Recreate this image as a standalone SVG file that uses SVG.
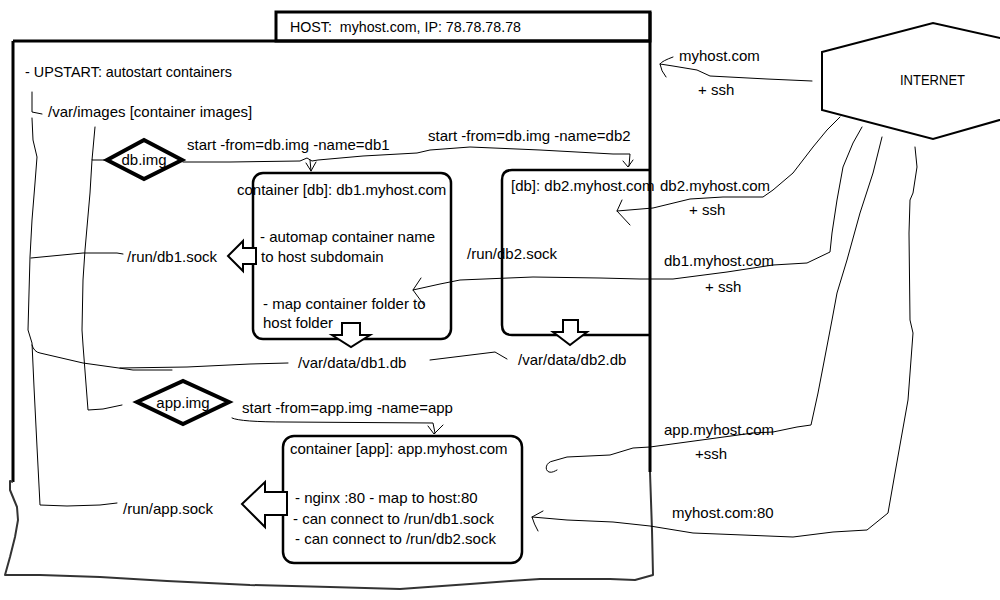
<svg xmlns="http://www.w3.org/2000/svg" width="1000" height="600" viewBox="0 0 1000 600">
<style>
text{font-family:"Liberation Sans",Arial,sans-serif;font-size:15px;fill:#000}
.thin{fill:none;stroke:#000;stroke-width:1;stroke-linejoin:round;stroke-linecap:round}
.thick{fill:none;stroke:#000;stroke-width:3}
.box{fill:none;stroke:#000;stroke-width:2.5}
.dia{fill:#fff;stroke:#000;stroke-width:4;stroke-linejoin:miter}
.blk{fill:#fff;stroke:#000;stroke-width:2;stroke-linejoin:miter}
.wavy{fill:none;stroke:#333;stroke-width:2;stroke-linejoin:round}
.mid{text-anchor:middle}
</style>
<rect width="1000" height="600" fill="#fff"/>
<g id="host">
<path class="thick" d="M13,41 L13,482 M13,41 L650,41 M650,12 L650,472"/>
<path class="wavy" d="M13,482 L10,481 L10,490 L17,507 L18,520 L15,537 L10,557 L5,575 L40,575 L100,577 L167,581 L250,585 L330,587 L400,589 L470,584 L510,581 L540,579 L610,579 L635,580 L653,575 L652,530 L650,472"/>
<text x="25" y="77" textLength="207" lengthAdjust="spacingAndGlyphs">- UPSTART: autostart containers</text>
<text x="48" y="117">/var/images [container images]</text>
</g>
<g id="host-title">
<rect class="thick" x="276" y="12" width="374" height="29" fill="#fff"/>
<text x="290" y="32" style="white-space:pre" textLength="231" lengthAdjust="spacingAndGlyphs">HOST:  myhost.com, IP: 78.78.78.78</text>
</g>
<g id="internet">
<polygon points="822,52 933,23 1045,48 1045,107 933,139 822,110" fill="#fff" stroke="#000" stroke-width="2"/>
<text x="900" y="85" textLength="65" lengthAdjust="spacingAndGlyphs">INTERNET</text>
</g>
<g id="db-img">
<polygon class="dia" points="107,160 144,140 182,160 144,179"/>
<text class="mid" x="144" y="165">db.img</text>
</g>
<g id="app-img">
<polygon class="dia" points="137,402 183,381 229,402 183,424"/>
<text class="mid" x="183" y="408">app.img</text>
</g>
<g id="db1">
<rect class="box" x="253" y="173" width="198" height="166" rx="10"/>
<text x="237" y="195">container [db]: db1.myhost.com</text>
<text x="260" y="242">- automap container name</text>
<text x="261" y="262">to host subdomain</text>
<text x="263" y="309">- map container folder to</text>
<text x="263" y="328">host folder</text>
</g>
<g id="db2">
<path class="box" d="M650,170 H512 Q502,170 502,180 V325 Q502,335 512,335 H650"/>
<text x="511" y="191">[db]: db2.myhost.com</text>
</g>
<g id="app">
<rect class="box" x="283" y="436" width="239" height="127" rx="11"/>
<text x="290" y="454">container [app]: app.myhost.com</text>
<text x="295" y="503">- nginx :80 - map to host:80</text>
<text x="293" y="524">- can connect to /run/db1.sock</text>
<text x="295" y="544">- can connect to /run/db2.sock</text>
</g>
<g id="files">
<text x="127" y="262">/run/db1.sock</text>
<text x="467" y="259">/run/db2.sock</text>
<text x="298" y="368">/var/data/db1.db</text>
<text x="518" y="365">/var/data/db2.db</text>
<text x="123" y="514">/run/app.sock</text>
</g>
<g id="connectors">
<path class="thin" d="M32,92 L32,112 L42,114"/>
<path class="thin" d="M32,118 L33,140 L37,157 L35,183 L32,220 L30,257 L29,293 L28,330 L32,343 L34,387 L37,447 L40,505 L67,506 L100,505 L117,503"/>
<path class="thin" d="M31,258 L83,253 L117,253 L123,254"/>
<path class="thin" d="M32,345 Q34,352 40,353 L83,363 L133,370 L172,370 M120,368 L187,367 L250,364 L288,363"/>
<path class="thin" d="M430,360 L495,352 L507,359"/>
<path class="thin" d="M95,127 L92,160 L107,160 M92,160 L90,193 L85,250 L83,280 L82,330 L83,345 L88,410 L103,409 L122,405"/>
<path class="thin" d="M183,162 L230,162 L300,161 L307,158 L312,161 L318,160 L363,156 L417,153 L430,150 L470,147 L540,150 L613,154 L630,154 L629,166 M310,160 L311,171 M306,163 L311,171 L316,162 M623,161 L628,167 L633,160"/>
<path class="thin" d="M232,418 Q240,422 287,422 L433,423 L435,433 M428,426 L434,434 L443,425"/>
<path class="thin" d="M812,81 L767,79 L710,76 L697,70 L673,66 L660,64 M673,57 Q662,61 660,64 Q661,71 666,77"/>
<path class="thin" d="M840,117 L827,130 L813,147 L793,173 L773,190 L763,197 L723,197 L690,199 L653,208 L617,211 M622,200 L617,211 L630,225"/>
<path class="thin" d="M862,127 L853,143 L843,167 L837,200 L832,233 L830,252 L807,263 L773,265 L727,272 L673,279 L640,279 L600,278 L533,277 L460,280 L440,284 L413,290 M421,278 L413,290 L424,305"/>
<path class="thin" d="M882,137 L873,173 L860,213 L847,260 L837,293 L832,320 L823,367 L818,393 L811,425 L797,427 L773,432 L753,433 L650,447 L633,448 L610,455 L567,457 L553,461 C546,462 544,470 549,472 C552,473 555,471 557,470"/>
<path class="thin" d="M915,147 L917,167 L913,193 L910,200 L909,233 L910,320 L913,333 L908,400 L895,473 L888,513 L867,530 L833,532 L793,537 L693,533 L650,526 L613,522 L567,520 L532,517 M543,511 L532,517 Q534,524 538,531"/>
<polygon class="blk" points="228,256 243,241 243,248 256,248 256,264 243,264 243,271"/>
<polygon class="blk" points="242,504 265,482 265,492 287,492 287,515 265,515 265,527"/>
<polygon class="blk" points="342,323 360,323 360,335 370,335 351,347 332,335 342,335"/>
<polygon class="blk" points="563,320 578,320 578,332 587,332 570,345 553,332 563,332"/>
</g>
<g id="labels">
<text x="187" y="150">start -from=db.img -name=db1</text>
<text x="428" y="141">start -from=db.img -name=db2</text>
<text x="242" y="413">start -from=app.img -name=app</text>
<text x="679" y="61">myhost.com</text>
<text x="698" y="95">+ ssh</text>
<text x="660" y="191">db2.myhost.com</text>
<text x="689" y="215">+ ssh</text>
<text x="664" y="266">db1.myhost.com</text>
<text x="705" y="292">+ ssh</text>
<text x="664" y="435">app.myhost.com</text>
<text x="695" y="459">+ssh</text>
<text x="672" y="518">myhost.com:80</text>
</g>
</svg>
